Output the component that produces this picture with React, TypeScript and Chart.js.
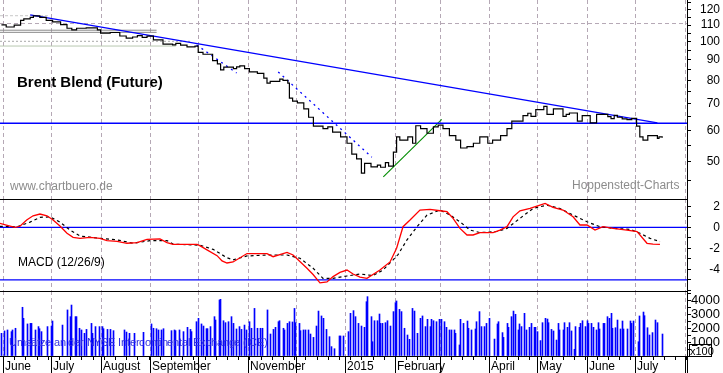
import React, { useEffect, useRef } from 'react';
import { Chart, registerables } from 'chart.js';

Chart.register(...registerables);

// ---------------- data ----------------
// x values are calendar days counted from 2014-06-01
const X_MIN = -1.875;
const X_MAX = 427.5;

const monthDays = [0, 30, 61, 92, 122, 153, 183, 214, 245, 273, 304, 334, 365, 395, 426];
const monthLabels = ['June', 'July', 'August', 'September', '', 'November', '', '2015', 'February', '', 'April', 'May', 'June', 'July', ''];

const priceDays = [-1, 2, 7, 11, 13, 17, 19, 23, 27, 31, 36, 40, 43, 46, 52, 59, 61, 67, 73, 77, 81, 84, 87, 90, 94, 100, 104, 106, 108, 111, 115, 120, 122, 125, 131, 134, 136, 138, 144, 146, 148, 151, 154, 159, 163, 165, 167, 173, 175, 178, 179, 181, 184, 188, 191, 194, 200, 203, 206, 211, 215, 218, 221, 224, 226, 230, 234, 236, 239, 241, 244, 246, 248, 253, 256, 258, 261, 265, 269, 272, 275, 279, 283, 286, 290, 294, 298, 303, 306, 311, 315, 318, 325, 328, 330, 333, 338, 340, 344, 350, 352, 354, 359, 362, 367, 371, 378, 380, 382, 384, 387, 390, 393, 396, 398, 400, 403, 409, 410, 412];
const priceClose = [110.1, 108.8, 110, 113, 114, 115, 116, 115, 113, 112, 110.3, 108, 107, 108, 108.2, 107, 105, 105.4, 103.3, 102, 102.7, 103.5, 102.5, 103.2, 101, 98.6, 98.6, 98.2, 99, 98, 97, 97.5, 94, 93, 89.6, 88, 85, 86.3, 85.6, 86.5, 87, 85.6, 84, 83.3, 81, 78.7, 79.5, 80.6, 80, 78.7, 72.2, 71, 70.3, 67.9, 64.7, 61.5, 60.6, 61.2, 59.4, 57.8, 55.7, 52.3, 50.9, 46.9, 49.6, 48.6, 49.1, 48.5, 49.8, 48.8, 52.9, 57.8, 56.7, 57.8, 55.7, 61.6, 60.6, 59, 61.2, 61.8, 60.6, 58.2, 56.7, 54.2, 54.6, 55.7, 57.8, 55.7, 56.7, 58.2, 60.6, 63.3, 65.3, 66.2, 65, 67.6, 68.9, 65.8, 67.9, 65, 65.8, 66.3, 63.3, 65.3, 62.6, 65.8, 64.9, 64.2, 65.4, 64.7, 64.1, 63.8, 64.3, 61.5, 57.8, 56.7, 58.2, 57.3, 57.8, 57.5];

const priceTicks = [45, 50, 55, 60, 65, 70, 75, 80, 85, 90, 95, 100, 105, 110, 115, 120, 125];
const priceTickLabels = [50, 60, 70, 80, 90, 100, 110, 120];
const PRICE_MIN = 40.4;
const PRICE_MAX = 127.1;

const resistanceDays = [17, 409];
const resistanceValues = [116.6, 62.6];
const supportLevel = 62.5;
const shortTrendDays = [121, 146];
const shortTrendValues = [98.1, 83.5];
const fallTrendDays = [172, 230.5];
const fallTrendValues = [84, 51.4];
const riseTrendDays = [237.7, 274.2];
const riseTrendValues = [45.9, 63.9];
const gridLevel = 111;
const oldLevels = [116.1, 106.8, 105.5, 100.2, 97.5];
const oldLevelEnds = [28, 96, 96, 117, 108];

const macdDays = [-2, 4.4, 7.5, 10.6, 14.8, 18.8, 23.1, 27.5, 31.3, 35.6, 40, 43.8, 48.1, 54.4, 60.6, 65, 71.3, 77.5, 83.8, 90, 98.1, 102.5, 106.3, 121.3, 123, 127.5, 133.8, 136.9, 140, 143.8, 152.5, 165, 168.8, 177.5, 181.3, 190, 193.8, 198.1, 202.5, 206.3, 210.6, 215, 218.8, 223.1, 227.5, 235.6, 241.9, 246, 250, 254.4, 260.6, 266.9, 273.1, 277.5, 281.3, 285.6, 290, 293.8, 298.1, 306.3, 310.6, 315, 318.8, 323.1, 329.4, 335.6, 338.8, 343.8, 350, 356.3, 360.6, 365, 370, 375, 381.3, 390, 396.3, 402.5, 406.3, 410.6];
const macdValues = [0.38, 0.12, 0, 0.1, 0.7, 1.1, 1.27, 1.1, 0.7, 0.12, -0.57, -0.95, -1.05, -0.95, -1.05, -1.27, -1.33, -1.52, -1.46, -1.14, -1.11, -1.46, -1.62, -1.62, -1.75, -2.15, -2.7, -3.2, -3.4, -3.3, -2.5, -2.5, -2.8, -2.4, -2.64, -3.9, -4.5, -5.3, -5.2, -4.7, -4.3, -4.07, -4.45, -4.75, -4.86, -4.07, -3.3, -2, 0.06, 0.7, 1.65, 1.71, 1.58, 1.49, 0.86, -0.1, -0.73, -0.73, -0.5, -0.5, -0.26, 0.06, 1.0, 1.58, 1.8, 2.12, 2.28, 1.9, 1.65, 1.0, 0.22, 0.22, -0.26, 0.06, -0.1, -0.26, -0.4, -1.52, -1.6, -1.62];
const signalDays = [-2, 8.8, 16.9, 23.1, 29.4, 35.6, 41.9, 48.1, 60.6, 71.3, 81.3, 91.9, 102.5, 106.3, 123.1, 131.3, 140, 143.8, 152.5, 165, 177.5, 185.6, 193.8, 200, 206.3, 215, 223.1, 231.3, 237.5, 243.8, 246.9, 252.5, 258.8, 265, 273.1, 279.4, 285.6, 291.9, 298.1, 308.8, 315, 323.1, 331.3, 340, 348.1, 356.3, 365, 373.1, 381.3, 391.9, 398.1, 404.4, 410.6];
const signalValues = [0.1, 0.05, 0.5, 0.95, 1.0, 0.5, -0.26, -0.83, -1.05, -1.2, -1.52, -1.27, -1.27, -1.6, -1.7, -2.1, -2.9, -3.1, -2.73, -2.64, -2.64, -2.95, -3.9, -4.86, -4.86, -4.64, -4.45, -4.6, -4.07, -3.1, -2.6, -1.2, 0.06, 1.17, 1.65, 1.17, 0.53, -0.26, -0.5, -0.4, -0.1, 0.86, 1.8, 2.12, 1.8, 1.17, 0.53, 0.06, -0.1, -0.19, -0.57, -1.05, -1.37];
const macdTicks = [-6, -5, -4, -3, -2, -1, 0, 1, 2];
const macdTickLabels = [2, 0, -2, -4];
const MACD_MIN = -6.07;
const MACD_MAX = 2.7;
const macdLowerLevel = -5;

const volumeDays = [-1, 1, 3, 5, 6, 8, 12, 13, 15, 17, 18, 20, 22, 23, 24, 28, 30, 31, 37, 40, 42, 43, 45, 46, 48, 49, 51, 52, 55, 56, 58, 60, 62, 63, 65, 67, 69, 76, 77, 79, 82, 88, 93, 94, 96, 97, 99, 100, 105, 107, 108, 110, 113, 115, 117, 118, 121, 122, 124, 125, 127, 128, 130, 132, 133, 135, 136, 138, 139, 141, 143, 144, 146, 148, 149, 151, 152, 154, 155, 157, 159, 161, 162, 165, 167, 169, 170, 172, 173, 175, 176, 178, 179, 181, 182, 183, 185, 186, 188, 189, 191, 192, 194, 196, 197, 199, 200, 202, 204, 205, 207, 210, 211, 213, 216, 217, 219, 220, 222, 224, 226, 227, 228, 230, 231, 232, 234, 235, 236, 237, 239, 240, 242, 244, 245, 246, 248, 249, 251, 253, 254, 256, 257, 259, 261, 262, 264, 265, 267, 268, 269, 271, 273, 274, 276, 277, 279, 280, 282, 283, 285, 286, 288, 290, 291, 293, 295, 296, 298, 299, 301, 302, 304, 307, 309, 310, 312, 313, 315, 316, 318, 319, 320, 322, 323, 324, 326, 327, 329, 330, 332, 333, 334, 336, 337, 339, 340, 341, 343, 344, 346, 347, 348, 350, 351, 353, 354, 355, 357, 358, 360, 361, 362, 364, 365, 366, 368, 369, 371, 372, 373, 375, 376, 378, 379, 380, 381, 383, 384, 386, 387, 388, 390, 392, 393, 394, 397, 398, 400, 401, 403, 404, 406, 408, 409, 412];
const volumeValues = [1620, 1790, 1860, 1740, 1860, 1980, 3480, 2690, 2290, 2330, 2330, 1860, 2100, 1950, 1740, 2100, 2140, 2500, 2210, 3290, 2810, 3640, 2810, 2810, 1980, 1860, 1620, 1900, 2330, 1620, 2100, 2100, 2100, 1950, 1900, 1900, 1810, 1860, 1710, 1620, 1620, 1690, 2290, 1980, 1950, 1860, 1860, 1950, 1810, 1860, 1810, 1860, 1740, 2050, 1900, 1740, 2450, 2690, 2290, 2140, 1950, 1950, 2100, 2810, 2570, 4000, 4050, 2520, 2380, 2450, 2810, 2330, 1930, 2100, 1900, 2210, 1860, 2450, 1980, 3400, 1980, 1980, 1980, 3290, 1570, 1900, 2050, 2450, 2520, 1980, 1860, 2330, 2450, 2430, 3400, 2380, 2330, 1810, 1860, 1860, 1860, 1570, 1330, 2140, 3210, 2860, 2690, 1900, 1380, 670, 520, 1430, 1430, 1430, 1740, 3050, 3240, 2810, 2330, 2140, 2050, 3880, 4240, 2810, 1020, 2520, 2520, 3000, 2330, 2330, 2380, 2520, 2140, 3170, 3810, 3930, 3330, 3170, 1980, 1500, 1190, 3400, 3210, 1620, 2690, 2860, 2100, 2620, 2100, 2620, 2520, 2450, 2620, 2620, 2450, 2050, 1860, 1860, 1860, 1620, 790, 2620, 2330, 2500, 1980, 1860, 1930, 2450, 3170, 2100, 2100, 2330, 2690, 1210, 2290, 2450, 1670, 1330, 2330, 2050, 2810, 3210, 2980, 1860, 2290, 2100, 3050, 1860, 2050, 2330, 2050, 2050, 1740, 1100, 2380, 2690, 2640, 2380, 1900, 1790, 1140, 2330, 1860, 1860, 2380, 2050, 2380, 1790, 480, 2100, 2050, 2330, 2520, 2100, 2520, 2330, 2330, 2050, 1860, 2380, 1930, 2330, 2330, 2810, 2690, 3050, 1980, 2020, 2570, 1930, 2500, 1930, 1930, 2500, 2330, 2500, 1020, 2860, 3140, 2880, 2020, 1500, 1670, 2570, 2380, 1570];
const volumeTicks = [0, 500, 1000, 1500, 2000, 2500, 3000, 3500, 4000, 4500];
const volumeTickLabels = [1000, 2000, 3000, 4000];
const VOL_MAX = 4643;

// ---------------- styles ----------------
const FONT = "'Liberation Sans', Arial, sans-serif";
const GRID_COLOR = '#b5a8b5';
const BLUE = '#0000ff';
const AXIS_W = 33;

const pts = (xs: number[], ys: number[]) => xs.map((x, i) => ({ x, y: ys[i] }));

const xScale = () => ({ type: 'linear', min: X_MIN, max: X_MAX, display: false, offset: false });

const yAxis = (extra: any, labels: number[], size = 12) => ({
  position: 'right',
  afterFit(s: any) { s.width = AXIS_W; s.paddingTop = 0; s.paddingBottom = 0; },
  border: { display: true, color: '#000', width: 1 },
  grid: { drawOnChartArea: false, drawTicks: true, tickLength: 4, color: '#000', lineWidth: 1 },
  ticks: {
    autoSkip: false, crossAlign: 'far', color: '#000', padding: 0,
    font: { family: FONT, size },
    callback: (v: number) => (labels.includes(v) ? String(v) : ''),
  },
  ...extra,
});

const setTicks = (vals: number[]) => (s: any) => { s.ticks = vals.map((v) => ({ value: v })); };

const monthGrid = {
  id: 'monthGrid',
  beforeDatasetsDraw(chart: any) {
    const { ctx, chartArea: a, scales } = chart;
    ctx.save();
    ctx.strokeStyle = GRID_COLOR;
    ctx.lineWidth = 1;
    ctx.setLineDash([4, 3]);
    monthDays.forEach((d) => {
      const px = Math.round(scales.x.getPixelForValue(d)) + 0.5;
      if (px < a.left || px > a.right) return;
      ctx.beginPath();
      ctx.moveTo(px, a.top);
      ctx.lineTo(px, a.bottom);
      ctx.stroke();
    });
    ctx.restore();
  },
};

const separator = {
  id: 'separator',
  afterDraw(chart: any) {
    const { ctx, chartArea: a } = chart;
    ctx.save();
    ctx.strokeStyle = '#000';
    ctx.lineWidth = 1;
    ctx.beginPath();
    ctx.moveTo(0, a.top + 0.5);
    ctx.lineTo(a.right, a.top + 0.5);
    ctx.stroke();
    ctx.restore();
  },
};

// keep one-pixel volume bars on whole pixels so they stay crisp
const crispBars = {
  id: 'crispBars',
  beforeDatasetsDraw(chart: any) {
    chart.getDatasetMeta(0).data.forEach((el: any) => { el.x = Math.floor(el.x) + 0.5; });
  },
};

function drawText(ctx: any, s: string, x: number, y: number, font: string, color: string) {
  ctx.save();
  ctx.font = font;
  ctx.fillStyle = color;
  ctx.textAlign = 'left';
  ctx.textBaseline = 'alphabetic';
  ctx.fillText(s, x, y);
  ctx.restore();
}

const baseOptions = (extraScales: any, pad: any) => ({
  responsive: false,
  maintainAspectRatio: false,
  animation: false,
  devicePixelRatio: 1,
  events: [],
  layout: { padding: { left: 0, top: 0, right: 3, bottom: 0, ...pad } },
  plugins: { legend: { display: false }, tooltip: { enabled: false } },
  elements: { point: { radius: 0 }, line: { tension: 0 } },
  scales: { x: xScale(), ...extraScales },
});

const lineDs = (data: any[], color: string, width: number, extra: any = {}) => ({
  type: 'line', data, borderColor: color, backgroundColor: color, borderWidth: width,
  pointRadius: 0, fill: false, ...extra,
});

function priceConfig(): any {
  const oldColors = ['#c8c8c8', '#8a8a8a', '#8a8a8a', '#a8a8a8', '#b8c8b0'];
  const oldDash = [[3, 2], [], [], [2, 2], []];
  const datasets: any[] = [
    lineDs(pts(priceDays, priceClose), '#000', 1.2, { stepped: 'before' }),
    lineDs(pts(resistanceDays, resistanceValues), BLUE, 1.3),
    lineDs(pts([X_MIN, X_MAX], [supportLevel, supportLevel]), BLUE, 1.3),
    lineDs(pts(shortTrendDays, shortTrendValues), BLUE, 1.3, { borderDash: [2, 4] }),
    lineDs(pts(fallTrendDays, fallTrendValues), BLUE, 1.3, { borderDash: [2, 4] }),
    lineDs(pts(riseTrendDays, riseTrendValues), '#008c00', 1.1),
    lineDs(pts([X_MIN, X_MAX], [gridLevel, gridLevel]), GRID_COLOR, 1, { borderDash: [4, 3] }),
    ...oldLevels.map((lv, i) => lineDs(pts([X_MIN, oldLevelEnds[i]], [lv, lv]), oldColors[i], 1, { borderDash: oldDash[i] })),
  ];
  return {
    type: 'line',
    data: { datasets },
    options: baseOptions({
      y: yAxis({ type: 'logarithmic', min: PRICE_MIN, max: PRICE_MAX, afterBuildTicks: setTicks(priceTicks) }, priceTickLabels),
    }, {}),
    plugins: [monthGrid, {
      id: 'priceText',
      afterDraw(chart: any) {
        const { ctx } = chart;
        drawText(ctx, 'Brent Blend (Future)', 17, 87, `bold 15px ${FONT}`, '#000');
        drawText(ctx, 'www.chartbuero.de', 10, 190, `12px ${FONT}`, '#8c8c8c');
        drawText(ctx, 'Hoppenstedt-Charts', 572, 189, `12px ${FONT}`, '#8c8c8c');
      },
    }],
  };
}

function macdConfig(): any {
  const datasets: any[] = [
    lineDs(pts(macdDays, macdValues), '#ff0000', 1.3),
    lineDs(pts(signalDays, signalValues), '#000', 1.2, { borderDash: [3, 3] }),
    lineDs(pts([X_MIN, X_MAX], [0, 0]), BLUE, 1.3),
    lineDs(pts([X_MIN, X_MAX], [macdLowerLevel, macdLowerLevel]), BLUE, 1.3),
  ];
  return {
    type: 'line',
    data: { datasets },
    options: baseOptions({
      y: yAxis({ type: 'linear', min: MACD_MIN, max: MACD_MAX, afterBuildTicks: setTicks(macdTicks) }, macdTickLabels),
    }, {}),
    plugins: [monthGrid, separator, {
      id: 'macdText',
      afterDraw(chart: any) {
        drawText(chart.ctx, 'MACD (12/26/9)', 18, 67, `12px ${FONT}`, '#000');
      },
    }],
  };
}

function volumeConfig(): any {
  return {
    type: 'bar',
    data: {
      datasets: [{
        data: pts(volumeDays, volumeValues),
        backgroundColor: BLUE,
        borderWidth: 0,
        barThickness: 1,
      }],
    },
    options: baseOptions({
      y: yAxis({ type: 'linear', min: 0, max: VOL_MAX, afterBuildTicks: setTicks(volumeTicks) }, volumeTickLabels, 13),
    }, { bottom: 17 }),
    plugins: [monthGrid, crispBars, separator, {
      id: 'volExtras',
      afterDraw(chart: any) {
        const { ctx, chartArea: a, scales } = chart;
        const H = chart.height;
        const y0 = a.bottom;
        ctx.save();
        // caption spread over a fixed width
        const label = 'Umsätze an der NYSE Intercontinental Exchange (ICE)';
        ctx.font = `11px ${FONT}`;
        ctx.fillStyle = '#3030e0';
        ctx.textAlign = 'left';
        ctx.textBaseline = 'alphabetic';
        const natural = ctx.measureText(label).width;
        const spacing = (259 - natural) / (label.length - 1);
        let cx = 9;
        for (const ch of label) {
          ctx.fillText(ch, Math.round(cx), 55);
          cx += ctx.measureText(ch).width + spacing;
        }
        // bottom axis
        ctx.strokeStyle = '#000';
        ctx.lineWidth = 1;
        ctx.beginPath();
        ctx.moveTo(0, y0 + 0.5);
        ctx.lineTo(a.right + 1, y0 + 0.5);
        ctx.moveTo(a.right + 0.5, y0);
        ctx.lineTo(a.right + 0.5, H);
        for (let d = 0; d <= X_MAX; d += 7) {
          const px = Math.round(scales.x.getPixelForValue(d)) + 0.5;
          ctx.moveTo(px, y0);
          ctx.lineTo(px, y0 + 4);
        }
        monthDays.forEach((d) => {
          const px = Math.round(scales.x.getPixelForValue(d)) + 0.5;
          if (px > a.right) return;
          ctx.moveTo(px, y0);
          ctx.lineTo(px, H);
        });
        ctx.stroke();
        ctx.fillStyle = '#000';
        ctx.font = `12px ${FONT}`;
        monthDays.forEach((d, i) => {
          if (!monthLabels[i]) return;
          const px = Math.round(scales.x.getPixelForValue(d));
          ctx.fillText(monthLabels[i], px + 2, y0 + 14);
        });
        // x100 box
        ctx.strokeRect(689.5, 53.5, 22, 12);
        ctx.font = `11px ${FONT}`;
        ctx.fillText('x100', 690, 63.5);
        ctx.restore();
      },
    }],
  };
}

export default function App() {
  const priceRef = useRef<HTMLCanvasElement>(null);
  const macdRef = useRef<HTMLCanvasElement>(null);
  const volRef = useRef<HTMLCanvasElement>(null);

  useEffect(() => {
    const charts = [
      new Chart(priceRef.current as HTMLCanvasElement, priceConfig()),
      new Chart(macdRef.current as HTMLCanvasElement, macdConfig()),
      new Chart(volRef.current as HTMLCanvasElement, volumeConfig()),
    ];
    return () => charts.forEach((c) => c.destroy());
  }, []);

  return (
    <div style={{ position: 'fixed', left: 0, top: 0, width: 723, height: 373, background: '#fff' }}>
      <canvas ref={priceRef} width={723} height={199} style={{ display: 'block' }} />
      <canvas ref={macdRef} width={723} height={92} style={{ display: 'block' }} />
      <canvas ref={volRef} width={723} height={82} style={{ display: 'block' }} />
    </div>
  );
}
